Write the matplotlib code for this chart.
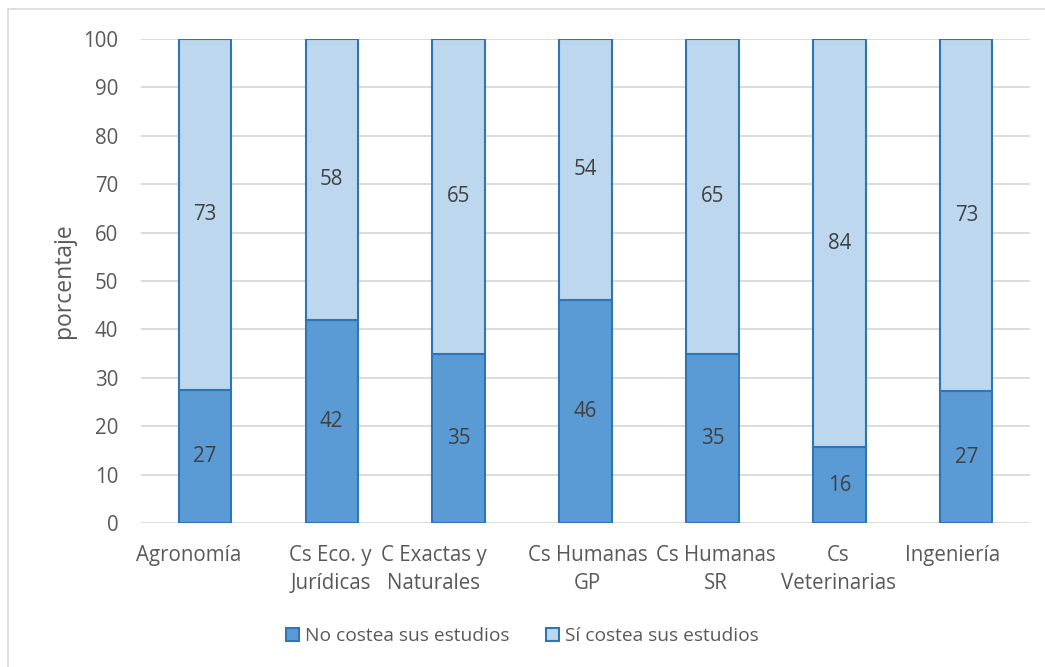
import numpy as np
import matplotlib.pyplot as plt
from matplotlib.patches import Rectangle

categorias = ['Agronomía', 'Cs Eco. y\nJurídicas', 'C Exactas y\nNaturales',
              'Cs Humanas\nGP', 'Cs Humanas\nSR', 'Cs\nVeterinarias', 'Ingeniería']
no_costea = [27.4, 42.0, 35.0, 46.0, 35.0, 15.7, 27.2]
si_costea = [72.6, 58.0, 65.0, 54.0, 65.0, 84.3, 72.8]
yticks = [0, 10, 20, 30, 40, 50, 60, 70, 80, 90, 100]

# corrimiento horizontal (px) de las etiquetas, como en el original
desplaz = [-16, -1, -25, 2, 3, -1, -14]

gris = '#595959'
plt.rcParams['font.family'] = ['Open Sans', 'DejaVu Sans']
fs = 14.8

fig = plt.figure(figsize=(10.45, 6.67), dpi=100)
ax = fig.add_axes([0.135, 0.2159, 0.8506, 0.7256])

x = np.arange(len(categorias))
w = 0.41
b1 = ax.bar(x, no_costea, w, color='#5B9BD5', edgecolor='#2E75B6', linewidth=1.5,
            label='No costea sus estudios', zorder=3)
b2 = ax.bar(x, si_costea, w, bottom=no_costea, color='#BDD7EE', edgecolor='#2E75B6',
            linewidth=1.5, label='Sí costea sus estudios', zorder=3)
ax.bar_label(b1, fmt='%.0f', label_type='center', fontsize=fs, color='#404040')
ax.bar_label(b2, fmt='%.0f', label_type='center', fontsize=fs, color='#404040')

ax.set_xlim(-0.5, len(categorias) - 0.5)
ax.set_ylim(0, 100)
ax.set_yticks(yticks)
ax.set_xticks(x)
ax.set_xticklabels([])
for xi, cat, d in zip(x, categorias, desplaz):
    ax.annotate(cat, xy=(xi, 0), xycoords=('data', 'axes fraction'),
                xytext=(d * 0.72, -16), textcoords='offset points',
                ha='center', va='top', fontsize=fs, color=gris, linespacing=1.45)
ax.tick_params(axis='y', labelsize=fs, labelcolor=gris, length=0, pad=16.5)
ax.tick_params(axis='x', length=0)
ax.grid(axis='y', color='#D9D9D9', linewidth=1.3, zorder=0)
for s in ax.spines.values():
    s.set_visible(False)
ax.set_ylabel('porcentaje', fontsize=16.5, color=gris, labelpad=5)

ax.legend(loc='center', bbox_to_anchor=(0.5, 0.0465), bbox_transform=fig.transFigure,
          ncol=2, frameon=False, fontsize=13.8, labelcolor=gris,
          handlelength=0.68, handleheight=0.68, handletextpad=0.3, columnspacing=1.9)

fig.patches.append(Rectangle((8 / 1045, -0.01), 1.02, 1 - 9 / 667 + 0.01,
                             transform=fig.transFigure, fill=False,
                             edgecolor='#D9D9D9', linewidth=1.2))

fig.savefig('out.png', dpi=100)
